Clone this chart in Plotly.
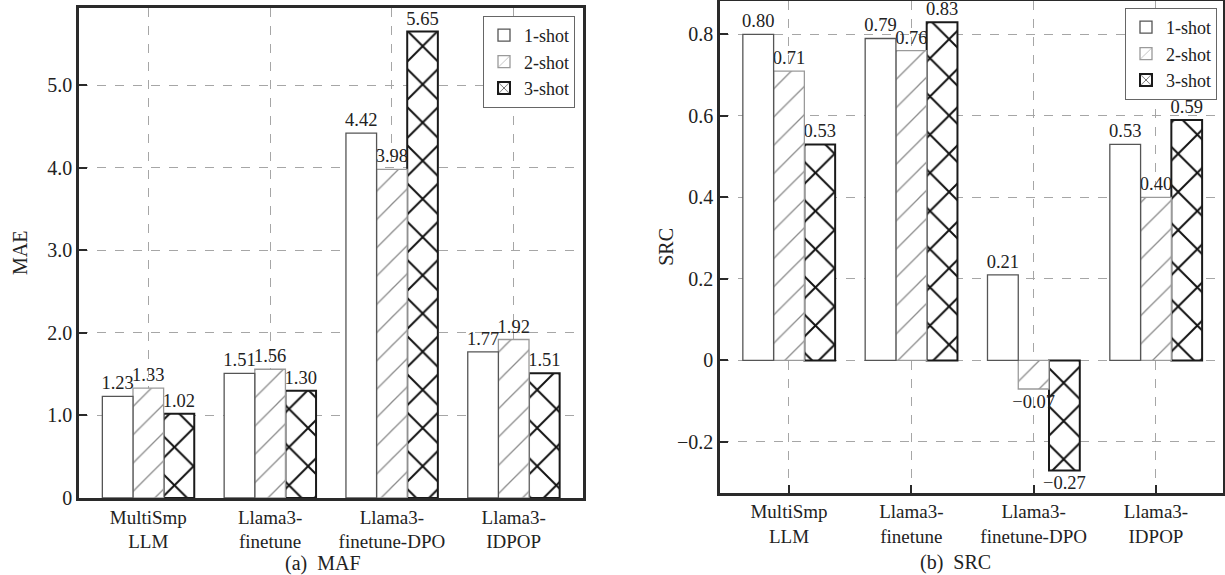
import plotly.graph_objects as go

categories = ["MultiSmp<br>LLM", "Llama3-<br>finetune", "Llama3-<br>finetune-DPO", "Llama3-<br>IDPOP"]
series_names = ["1-shot", "2-shot", "3-shot"]

mae_1shot = [1.23, 1.51, 4.42, 1.77]
mae_2shot = [1.33, 1.56, 3.98, 1.92]
mae_3shot = [1.02, 1.30, 5.65, 1.51]

src_1shot = [0.80, 0.79, 0.21, 0.53]
src_2shot = [0.71, 0.76, -0.07, 0.40]
src_3shot = [0.53, 0.83, -0.27, 0.59]

mae_ticks = [0, 1, 2, 3, 4, 5]
mae_ticktext = ["0", "1.0", "2.0", "3.0", "4.0", "5.0"]
src_ticks = [-0.2, 0, 0.2, 0.4, 0.6, 0.8]
src_ticktext = ["\u22120.2", "0", "0.2", "0.4", "0.6", "0.8"]

FONT = "Liberation Serif, Times New Roman, serif"
W, H = 1225, 575
BAR_W = 0.2515

styles = [
    dict(line=dict(color="#555555", width=1.3), pattern=dict(shape=""),
         offset=-1.5 * BAR_W),
    dict(line=dict(color="#9a9a9a", width=1.3),
         pattern=dict(shape="/", fgcolor="#8c8c8c", bgcolor="white", size=20, solidity=0.065),
         offset=-0.5 * BAR_W),
    dict(line=dict(color="#1a1a1a", width=2.0),
         pattern=dict(shape="x", fgcolor="#111111", bgcolor="white", size=27, solidity=0.14),
         offset=0.5 * BAR_W),
]


def fmt(v):
    return f"{v:.2f}".replace("-", "\u2212")


fig = go.Figure()
panels = [
    ("x", "y", "legend", [mae_1shot, mae_2shot, mae_3shot]),
    ("x2", "y2", "legend2", [src_1shot, src_2shot, src_3shot]),
]
for xa, ya, lg, series in panels:
    # draw 3-shot first so the value labels of narrower neighbours stay on top
    for name, vals, st in reversed(list(zip(series_names, series, styles))):
        fig.add_trace(go.Bar(
            x=categories, y=vals, name=name, xaxis=xa, yaxis=ya, legend=lg,
            width=BAR_W, offset=st["offset"],
            marker=dict(color="white", line=st["line"], pattern=st["pattern"]),
            text=[fmt(v) for v in vals], textposition="outside", cliponaxis=False,
            constraintext="none",
            textfont=dict(family=FONT, size=18.5, color="#222222"),
        ))

axis_common = dict(
    showline=True, linecolor="#2a2a2a", linewidth=2.5, mirror=True,
    tickcolor="#2a2a2a", tickwidth=1.5, ticklen=8,
    showgrid=True, gridcolor="#a6a6a6", griddash="dash", gridwidth=1,
    zeroline=False, automargin=False,
)
ytick_font = dict(family=FONT, size=20, color="#222222")
xtick_font = dict(family=FONT, size=19, color="#222222")

x1 = (79 / W, 583 / W)
x2 = (720 / W, 1223 / W)
y1 = (1 - 498 / H, 1 - 8 / H)
y2 = (1 - 492.5 / H, 1 - 1 / H)

legend_common = dict(xanchor="left", yanchor="top", bgcolor="white",
                     bordercolor="#666666", borderwidth=1,
                     font=dict(family=FONT, size=18), tracegroupgap=0, itemwidth=30,
                     traceorder="reversed")

fig.update_layout(
    template="none",
    width=W, height=H,
    margin=dict(l=0, r=0, t=0, b=0, autoexpand=False),
    paper_bgcolor="white", plot_bgcolor="white",
    font=dict(family=FONT, size=19, color="#222222"),
    barmode="overlay", uniformtext=dict(mode=False),
    xaxis=dict(domain=list(x1), anchor="y", type="category", range=[-0.569, 3.569],
               ticks="", tickfont=xtick_font, **axis_common),
    yaxis=dict(domain=list(y1), anchor="x", range=[0, 5.936], tickvals=mae_ticks,
               ticktext=mae_ticktext, ticks="inside", tickfont=ytick_font, **axis_common),
    xaxis2=dict(domain=list(x2), anchor="y2", type="category", range=[-0.564, 3.548],
                ticks="inside", tickfont=xtick_font, **axis_common),
    yaxis2=dict(domain=list(y2), anchor="x2", range=[-0.324, 0.882], tickvals=src_ticks,
                ticktext=src_ticktext, ticks="inside", tickfont=ytick_font, **axis_common),
    legend=dict(x=483 / W, y=1 - 16 / H, **legend_common),
    legend2=dict(x=1125 / W, y=1 - 8 / H, **legend_common),
    annotations=[
        dict(text="MAE", x=20 / W, y=(y1[0] + y1[1]) / 2, xref="paper", yref="paper",
             xanchor="center", yanchor="middle",
             textangle=-90, showarrow=False, font=dict(family=FONT, size=20)),
        dict(text="SRC", x=666 / W, y=(y2[0] + y2[1]) / 2, xref="paper", yref="paper",
             xanchor="center", yanchor="middle",
             textangle=-90, showarrow=False, font=dict(family=FONT, size=20)),
        dict(text="(a)\u2002MAF", x=323 / W, y=1 - 563 / H, xref="paper", yref="paper",
             xanchor="center", yanchor="middle",
             showarrow=False, font=dict(family=FONT, size=20)),
        dict(text="(b)\u2002SRC", x=955 / W, y=1 - 562 / H, xref="paper", yref="paper",
             xanchor="center", yanchor="middle",
             showarrow=False, font=dict(family=FONT, size=20)),
    ],
)

fig.write_html("out.html")
